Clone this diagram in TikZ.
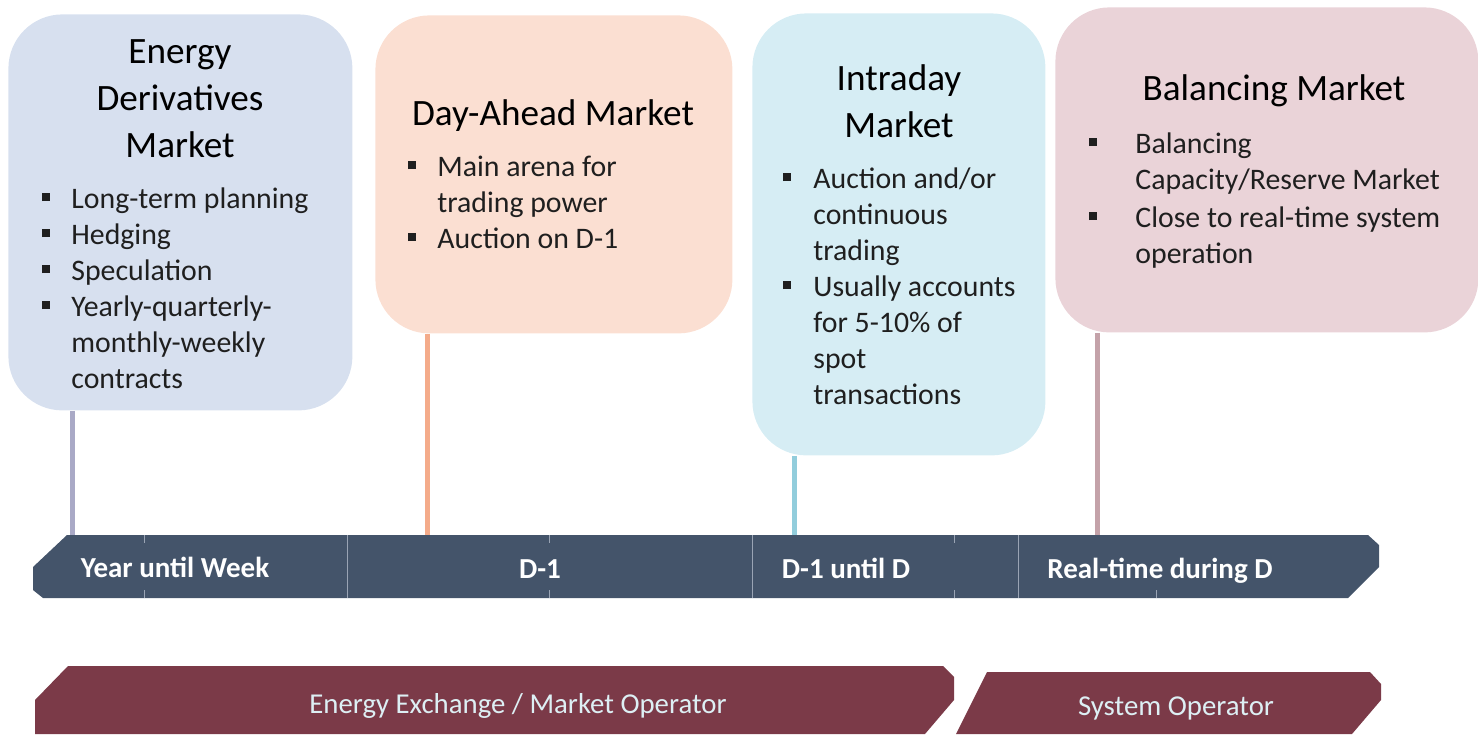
\documentclass[tikz,border=0pt]{standalone}
\usepackage{xcolor}
\usepackage{fontspec}
\setmainfont{Carlito}
\usepackage{tikz}

\definecolor{derfill}{HTML}{D7E0EF}
\definecolor{dayfill}{HTML}{FBDFD2}
\definecolor{intfill}{HTML}{D6EDF4}
\definecolor{balfill}{HTML}{EAD3D8}
\definecolor{dercol}{HTML}{A9A9C6}
\definecolor{daycol}{HTML}{F4AB8A}
\definecolor{intcol}{HTML}{92CDDC}
\definecolor{balcol}{HTML}{C4A2A9}
\definecolor{timefill}{HTML}{44546A}
\definecolor{sepcol}{HTML}{9AA4B4}
\definecolor{opfill}{HTML}{7B3A48}
\definecolor{optext}{HTML}{DDEFF4}
\newcommand{\bul}{\rule[3.4pt]{4pt}{4pt}}

\begin{document}
\begin{tikzpicture}[x=0.5pt,y=-0.5pt,
    mktbox/.style={rounded corners=27pt, inner sep=0pt, anchor=north west},
    mkttitle/.style={anchor=base, inner sep=0pt, font=\fontsize{18.6}{23.5}\selectfont},
    mktlist/.style={anchor=base west, inner sep=0pt, text=black!88, font=\fontsize{14.9}{18}\selectfont},
    stem/.style={line width=2.5pt},
    sep/.style={draw=sepcol, line width=0.5pt},
    timelabel/.style={anchor=base, inner sep=0pt, text=white, font=\fontsize{14.5}{17}\selectfont\bfseries},
    oplabel/.style={anchor=base, inner sep=0pt, text=optext, font=\fontsize{14.4}{17}\selectfont}]
                \useasboundingbox (0,0) rectangle (1478,734);
                \node [mktbox, fill=derfill, minimum width=172pt, minimum height=198pt] (dermkt) at (8,14) {};
                \node [mktbox, fill=dayfill, minimum width=178.5pt, minimum height=159pt] (daymkt) at (375,15) {};
                \node [mktbox, fill=intfill, minimum width=146.5pt, minimum height=221pt] (intmkt) at (752,13) {};
                \node [mktbox, fill=balfill, minimum width=211.5pt, minimum height=162.5pt] (balmkt) at (1055,7) {};
                \node [mkttitle] (dertitle) at (180,63) {\begin{tabular}[t]{@{}c@{}}Energy\\Derivatives\\Market\end{tabular}};
                \node [mkttitle] (daytitle) at (553,125) {Day-Ahead Market};
                \node [mkttitle] (inttitle) at (899,90) {\begin{tabular}[t]{@{}c@{}}Intraday\\Market\end{tabular}};
                \node [mkttitle] (baltitle) at (1274,100) {Balancing Market};
                \node [mktlist] (derlist) at (42,208) {\begin{tabular}[t]{@{}p{14.5pt}@{}l@{}}
                    \bul & Long-term planning\\
                    \bul & Hedging\\
                    \bul & Speculation\\
                    \bul & Yearly-quarterly-\\
                    & monthly-weekly\\
                    & contracts\end{tabular}};
                \node [mktlist] (daylist) at (408,176) {\begin{tabular}[t]{@{}p{14.5pt}@{}l@{}}
                    \bul & Main arena for\\
                    & trading power\\
                    \bul & Auction on D-1\end{tabular}};
                \node [mktlist] (intlist) at (783,188) {\begin{tabular}[t]{@{}p{15pt}@{}l@{}}
                    \bul & Auction and/or\\
                    & continuous\\
                    & trading\\
                    \bul & Usually accounts\\
                    & for 5-10\% of\\
                    & spot\\
                    & transactions\end{tabular}};
                \node [mktlist] (ballist) at (1089,153) {\begin{tabular}[t]{@{}p{23pt}@{}l@{}}
                    \bul & Balancing\\
                    & Capacity/Reserve Market\\[1pt]
                    \bul & Close to real-time system\\
                    & operation\end{tabular}};
                \fill [timefill] (67,535) -- (1368,535) -- (1379,545) -- (1379,567) -- (1348,598) -- (43,598) -- (33,590) -- (33,567) -- cycle;
                \draw [sep] (347,535) -- (347,598);
                \draw [sep] (752,535) -- (752,598);
                \draw [sep] (1018,535) -- (1018,598);
                \draw [sep] (144,535) -- (144,543);
                \draw [sep] (144,590) -- (144,598);
                \draw [sep] (549,535) -- (549,543);
                \draw [sep] (549,590) -- (549,598);
                \draw [sep] (954,535) -- (954,543);
                \draw [sep] (954,590) -- (954,598);
                \draw [sep] (1156,590) -- (1156,598);
                \coordinate (dertime) at (72,535);
                \coordinate (daytime) at (427,535);
                \coordinate (inttime) at (794,535);
                \coordinate (baltime) at (1097,535);
                \draw [stem, dercol] (dermkt.south -| dertime) -- (dertime);
                \draw [stem, daycol] (daymkt.south -| daytime) -- (daytime);
                \draw [stem, intcol] (intmkt.south -| inttime) -- (inttime);
                \draw [stem, balcol] (balmkt.south -| baltime) -- (baltime);
                \node [timelabel] (yrlabel) at (175,577) {Year until Week};
                \node [timelabel] (dalabel) at (540,578) {D-1};
                \node [timelabel] (idlabel) at (846,578) {D-1 until D};
                \node [timelabel] (rtlabel) at (1160,578) {Real-time during D};
                \fill [opfill] (68,666) -- (943,666) -- (954,677) -- (954,700) -- (925,734) -- (35,734) -- (35,700) -- cycle;
                \fill [opfill] (987,672) -- (1370,672) -- (1381,684) -- (1381,700) -- (1352,734) -- (956,734) -- cycle;
                \node [oplabel] (exlabel) at (518,713) {Energy Exchange / Market Operator};
                \node [oplabel] (solabel) at (1176,715) {System Operator};
            \end{tikzpicture}
\end{document}
